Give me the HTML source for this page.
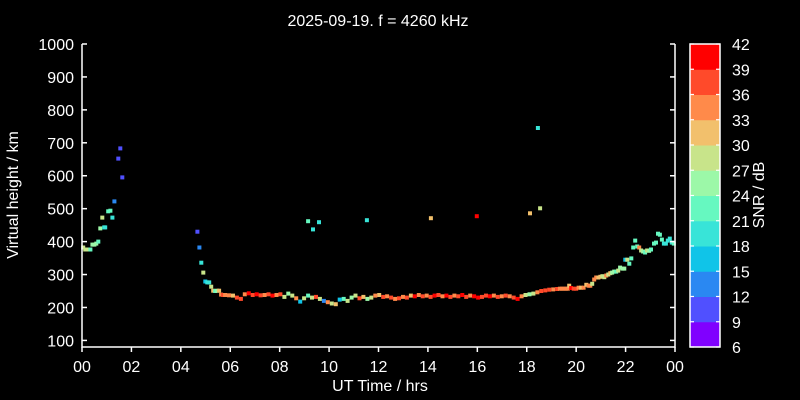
<!DOCTYPE html>
<html><head><meta charset="utf-8"><style>
html,body{margin:0;padding:0;background:#000;}
svg{display:block;font-family:"Liberation Sans",sans-serif;}
</style></head><body>
<svg id="chart" width="800" height="400" viewBox="0 0 800 400">
<rect x="0" y="0" width="800" height="400" fill="#000"/>
<text x="378" y="26" fill="#fff" font-size="16" text-anchor="middle">2025-09-19. f = 4260 kHz</text>
<g id="points"></g>
<g id="axes"></g>
<g id="cbar"></g>
<text x="380" y="391" fill="#fff" font-size="16" text-anchor="middle">UT Time / hrs</text>
<text transform="translate(18,195) rotate(-90)" fill="#fff" font-size="16" text-anchor="middle">Virtual height / km</text>
<text transform="translate(764,195) rotate(-90)" fill="#fff" font-size="16" text-anchor="middle">SNR / dB</text>
</svg>
<script>
const times = [0.05,0.13,0.21,0.34,0.42,0.5,0.58,0.66,0.74,0.82,0.9,0.94,1.06,1.15,1.23,1.31,1.47,1.55,1.63,
4.67,4.75,4.83,4.91,4.99,5.07,5.15,5.23,5.31,5.39,5.47,5.55,5.63,5.71,
5.79,5.95,6.11,6.27,6.43,6.59,6.75,6.91,7.07,7.23,7.39,7.55,7.71,7.87,8.03,8.19,8.35,8.51,8.67,8.83,8.99,9.15,9.31,9.47,9.63,9.79,9.95,10.11,10.27,10.43,10.59,10.75,10.91,11.07,11.23,11.39,11.55,11.71,11.87,12.03,12.19,12.35,12.51,12.67,12.83,12.99,13.15,13.31,13.47,13.63,13.79,13.95,14.11,14.27,14.43,14.59,14.75,14.91,15.07,15.23,15.39,15.55,15.71,15.87,16.03,16.19,16.35,16.51,16.67,16.83,16.99,17.15,17.31,17.47,17.63,17.79,17.95,18.11,18.27,18.43,18.59,18.75,18.91,19.07,19.23,
19.34,19.42,19.5,19.58,19.66,19.72,19.8,19.9,20.0,20.1,20.2,20.3,20.41,20.5,20.57,20.65,20.73,20.81,20.9,20.98,21.06,21.14,21.22,21.3,21.38,21.46,21.54,21.62,21.7,21.78,21.87,21.95,21.99,22.07,22.15,22.23,22.31,22.39,22.47,22.55,22.63,22.71,22.79,22.87,22.95,23.03,23.15,23.23,23.31,23.39,23.47,23.55,23.63,23.71,23.79,23.87,23.95,
9.15,9.35,9.59,11.53,14.12,15.98,18.13,18.54,18.45];
const heights = [382,376,376,376,391,391,394,400,440,473,443,443,492,494,473,522,652,683,595,
430,382,336,306,279,276,276,263,251,250,251,251,239,238,
238,237,236,230,226,240,243,238,240,237,238,240,236,238,240,232,242,236,228,218,228,236,230,232,226,220,216,212,210,224,226,220,230,236,228,232,226,230,236,238,232,234,230,226,228,232,230,236,234,238,234,236,232,236,238,234,236,232,236,234,238,232,236,234,230,232,236,234,236,232,234,236,234,230,226,234,238,240,242,246,250,252,254,255,256,
257,257,257,257,257,266,259,257,257,260,260,260,269,266,266,272,285,291,291,293,295,292,297,300,304,306,309,309,312,321,318,318,345,345,333,349,382,403,385,382,373,370,367,373,372,376,394,397,424,421,406,394,394,403,409,397,394,
462,437,459,465,471,477,486,501,745];
const snrs = [27,27,27,21,24,24,24,21,24,27,20,20,22,22,20,13,10,10,10,
11,13,19,28,17,20,20,28,30,22,24,30,33,36,
33,33,30,36,36,33,39,36,39,36,33,36,39,33,36,27,24,27,33,15,27,21,27,36,27,12,33,27,30,15,21,27,24,27,36,30,24,27,33,30,36,33,36,33,36,33,36,30,39,33,36,33,36,39,36,33,39,36,33,36,39,36,33,39,39,36,36,39,33,36,33,36,33,36,39,33,27,24,27,33,36,36,36,33,36,
33,33,33,33,33,30,39,36,36,33,30,33,30,33,33,27,34,33,30,30,27,27,33,27,30,24,24,23,28,24,24,24,15,28,22,22,22,22,22,33,28,24,22,28,24,22,22,22,21,21,21,20,20,20,20,20,21,
21,18,18,18,30,40,30,27,20];
const cbarLevels = [6,9,12,15,18,21,24,27,30,33,36,39,42];
const cbarColors = ["#8000ff","#5050ff","#2a88f2","#10c4e8","#38e4d8","#66f8c0","#9cf8a8","#c8e48a","#f2c06c","#ff8a4a","#ff4a2a","#ff0000"];
const xTicks = ["00","02","04","06","08","10","12","14","16","18","20","22","00"];
const yTicks = [100,200,300,400,500,600,700,800,900,1000];

const NS="http://www.w3.org/2000/svg";
const L=82,R=675,T=44,B=347,X0=0,X1=24,Y0=80,Y1=1000;
const xs=v=>L+(v-X0)/(X1-X0)*(R-L);
const ys=v=>B-(v-Y0)/(Y1-Y0)*(B-T);
function mk(tag,attrs,parent){const e=document.createElementNS(NS,tag);for(const k in attrs)e.setAttribute(k,attrs[k]);parent.appendChild(e);return e;}
function colorOf(s){let i=Math.floor((s-6)/3);i=Math.max(0,Math.min(11,i));return cbarColors[i];}
const pg=document.getElementById('points');
for(let i=0;i<times.length;i++){
  const r=mk('rect',{x:(xs(times[i])-2).toFixed(1),y:(ys(heights[i])-2).toFixed(1),width:4,height:4,fill:colorOf(snrs[i])},pg);
  
  
}
const ax=document.getElementById('axes');
const sp=mk('path',{d:`M${L},${T} V${B} H${R} V${T}`,stroke:'#fff','stroke-width':1.5,fill:'none'},ax);


xTicks.forEach((t,i)=>{const x=xs(i*2);
  const tk=mk('line',{x1:x,x2:x,y1:B,y2:B+5,stroke:'#fff','stroke-width':1.5},ax);
  
  
  const tx=mk('text',{x:x,y:B+25,fill:'#fff','font-size':16,'text-anchor':'middle'},ax);tx.textContent=t;
  
  
});
yTicks.forEach(v=>{const y=ys(v);
  const tk=mk('line',{x1:L,x2:L+5,y1:y,y2:y,stroke:'#fff','stroke-width':1.5},ax);
  
  
  const tk2=mk('line',{x1:R-5,x2:R,y1:y,y2:y,stroke:'#fff','stroke-width':1.5},ax);
  
  
  const tx=mk('text',{x:L-8,y:y+6,fill:'#fff','font-size':16,'text-anchor':'end'},ax);tx.textContent=v;
  
  
});
const cb=document.getElementById('cbar');
const CL=690,CR=720,n=cbarColors.length,bh=(B-T)/n;
cbarColors.forEach((c,i)=>{
  const r=mk('rect',{x:CL,y:B-(i+1)*bh,width:CR-CL,height:bh+0.5,fill:c},cb);
  
  
});
const fr=mk('rect',{x:CL,y:T,width:CR-CL,height:B-T,fill:'none',stroke:'#fff','stroke-width':1.5},cb);


cbarLevels.forEach((v,i)=>{const y=B-i*bh;
  const a=mk('line',{x1:CL,x2:CL+4,y1:y,y2:y,stroke:'#fff','stroke-width':1.2},cb);
  
  
  const b=mk('line',{x1:CR-4,x2:CR,y1:y,y2:y,stroke:'#fff','stroke-width':1.2},cb);
  
  
  const tx=mk('text',{x:732,y:y+6,fill:'#fff','font-size':16},cb);tx.textContent=v;
  
  
});
</script>
</body></html>
